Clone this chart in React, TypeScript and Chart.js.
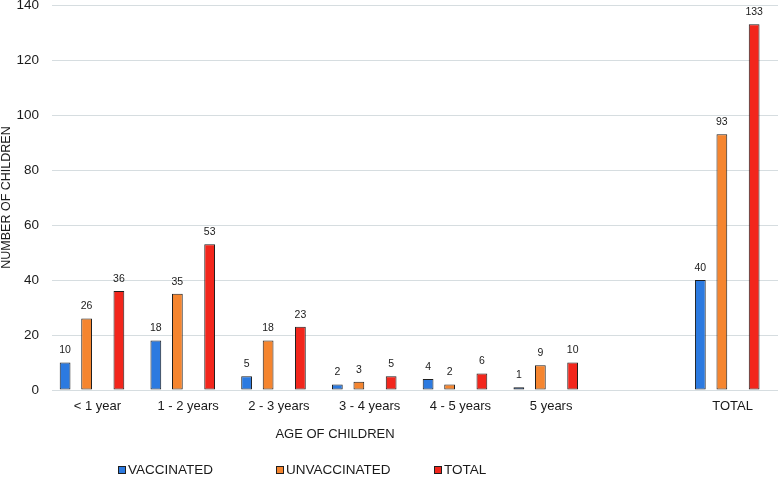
import React, { useEffect, useRef } from 'react';
import { Chart, registerables } from 'chart.js';

Chart.register(...registerables);

// ---- data ----
const categories = ['< 1 year', '1 - 2 years', '2 - 3 years', '3 - 4 years', '4 - 5 years', '5 years', '', 'TOTAL'];
const vaccinated = [10, 18, 5, 2, 4, 1, null, 40];
const unvaccinated = [26, 35, 18, 3, 2, 9, null, 93];
const totals = [36, 53, 23, 5, 6, 10, null, 133];
const seriesNames = ['VACCINATED', 'UNVACCINATED', 'TOTAL'];
const yMin = 0;
const yMax = 140;
const yStep = 20;
const xTitle = 'AGE OF CHILDREN';
const yTitle = 'NUMBER OF CHILDREN';

// ---- styles ----
const COLORS = ['#2C7AE0', '#F5852F', '#F2261C'];
const BORDER = '#1f1f1f';
const FONT = '"Liberation Sans", Arial, Helvetica, sans-serif';
const TEXT = '#1a1a1a';

const empty = categories.map(() => null);

const overlayPlugin = {
  id: 'overlay',
  afterDatasetsDraw(chart: any) {
    const ctx = chart.ctx;
    ctx.save();
    ctx.font = `10.5px ${FONT}`;
    ctx.fillStyle = TEXT;
    ctx.textAlign = 'center';
    ctx.textBaseline = 'middle';
    chart.data.datasets.forEach((ds: any, i: number) => {
      if (!ds.realSeries) return;
      const meta = chart.getDatasetMeta(i);
      meta.data.forEach((el: any, j: number) => {
        const v = ds.data[j];
        if (v === null || v === undefined) return;
        ctx.fillText(String(v), el.x, el.y - 12);
      });
    });
    ctx.restore();
  },
  afterDraw(chart: any) {
    const ctx = chart.ctx;
    const area = chart.chartArea;
    ctx.save();
    ctx.fillStyle = TEXT;
    // y title
    ctx.font = `12.5px ${FONT}`;
    ctx.textAlign = 'center';
    ctx.textBaseline = 'middle';
    ctx.translate(7, (area.top + area.bottom) / 2);
    ctx.rotate(-Math.PI / 2);
    ctx.fillText(yTitle, 0, 0);
    ctx.restore();

    ctx.save();
    ctx.fillStyle = TEXT;
    ctx.font = `13px ${FONT}`;
    ctx.textAlign = 'center';
    ctx.textBaseline = 'middle';
    ctx.fillText(xTitle, 335, area.bottom + 44);

    // legend
    const legendY = area.bottom + 80;
    const startX = 118;
    const stepX = 158;
    ctx.font = `13.5px ${FONT}`;
    ctx.textAlign = 'left';
    seriesNames.forEach((name, i) => {
      const x = startX + i * stepX;
      ctx.fillStyle = COLORS[i];
      ctx.fillRect(x, legendY - 4, 8, 8);
      ctx.strokeStyle = BORDER;
      ctx.lineWidth = 1;
      ctx.strokeRect(x + 0.5, legendY - 3.5, 7, 7);
      ctx.fillStyle = TEXT;
      ctx.fillText(name, x + 10, legendY + 0.5);
    });
    ctx.restore();
  },
};

export default function App() {
  const canvasRef = useRef<HTMLCanvasElement | null>(null);

  useEffect(() => {
    document.body.style.margin = '0';
    const canvas = canvasRef.current;
    if (!canvas) return;

    const real = (label: string, data: (number | null)[], color: string) => ({
      label,
      data,
      backgroundColor: color,
      borderColor: BORDER,
      borderWidth: 1,
      borderSkipped: false,
      realSeries: true,
    });
    const spacer = () => ({
      label: '',
      data: empty,
      backgroundColor: 'rgba(0,0,0,0)',
      borderWidth: 0,
      realSeries: false,
    });

    const chart = new Chart(canvas, {
      type: 'bar',
      data: {
        labels: categories,
        datasets: [
          real(seriesNames[0], vaccinated, COLORS[0]),
          spacer(),
          real(seriesNames[1], unvaccinated, COLORS[1]),
          spacer(),
          spacer(),
          real(seriesNames[2], totals, COLORS[2]),
          spacer(),
        ] as any,
      },
      options: {
        animation: false,
        responsive: true,
        maintainAspectRatio: false,
        layout: { padding: { top: 5, right: 0, bottom: 0, left: 0 } },
        datasets: {
          bar: { barPercentage: 1.0, categoryPercentage: 0.83 },
        },
        plugins: {
          legend: { display: false },
          tooltip: { enabled: false },
          title: { display: false },
        },
        scales: {
          x: {
            grid: { display: false, drawTicks: false },
            border: { display: false },
            ticks: {
              color: TEXT,
              font: { family: FONT, size: 13 },
              padding: 9,
              maxRotation: 0,
              autoSkip: false,
            },
            afterFit(scale: any) {
              scale.height = 87;
              scale.paddingLeft = 0;
              scale.paddingRight = 0;
            },
          },
          y: {
            min: yMin,
            max: yMax,
            grid: { color: '#d6dde0', lineWidth: 1, drawTicks: false },
            border: { display: false },
            ticks: {
              stepSize: yStep,
              color: TEXT,
              font: { family: FONT, size: 13.5 },
              padding: 13,
            },
            afterFit(scale: any) {
              scale.width = 52;
              scale.paddingTop = 0;
              scale.paddingBottom = 0;
            },
          },
        },
      },
      plugins: [overlayPlugin],
    });

    return () => chart.destroy();
  }, []);

  return (
    <div style={{ position: 'relative', width: '778px', height: '477px' }}>
      <canvas ref={canvasRef} />
    </div>
  );
}
